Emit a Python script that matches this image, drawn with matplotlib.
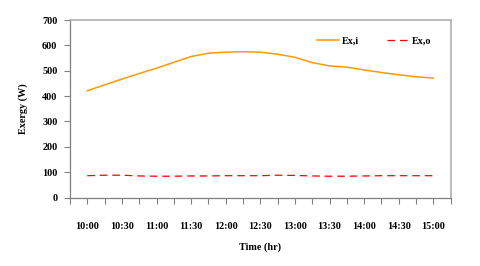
import matplotlib
matplotlib.use("Agg")
import matplotlib.pyplot as plt
import numpy as np

plt.rcParams['font.family'] = ['Liberation Serif', 'DejaVu Serif']
plt.rcParams['font.weight'] = 'bold'
plt.rcParams['lines.scale_dashes'] = False

times = ["10:00", "10:15", "10:30", "10:45", "11:00", "11:15", "11:30", "11:45",
         "12:00", "12:15", "12:30", "12:45", "13:00", "13:15", "13:30", "13:45",
         "14:00", "14:15", "14:30", "14:45", "15:00"]
ex_i = [421, 444, 467, 489, 510, 533, 556, 569, 573, 575, 573, 565, 553, 532,
        519, 514, 503, 493, 484, 476, 471]
ex_o = [86, 88, 88, 85, 84, 84, 85, 85, 86, 86, 86, 88, 87, 85, 84, 84, 85,
        86, 86, 86, 86]
yticks = [0, 100, 200, 300, 400, 500, 600, 700]

fig = plt.figure(figsize=(4.8, 2.66), dpi=100)
ax = fig.add_axes([0.1458, 0.2575, 0.939 - 0.1458, 0.9248 - 0.2575])

x = np.arange(len(times))
ax.plot(x, ex_i, color='#FF9900', lw=1.1, label='Ex,i')
ax.plot(x, ex_o, color='#FF0000', lw=0.9, dashes=(5.5, 3.5), label='Ex,o')

ax.set_xlim(-1, len(times))
ax.set_ylim(0, 700)
ax.set_yticks(yticks)
ax.set_yticklabels([str(v) for v in yticks], fontsize=7.3, fontweight='bold')

tick_pos = np.arange(-1, len(times) + 1)
ax.set_xticks(tick_pos)
labels = []
for p in tick_pos:
    if 0 <= p < len(times) and p % 2 == 0:
        labels.append(times[p])
    else:
        labels.append("")
ax.set_xticklabels(labels, fontsize=7.3, fontweight='bold')

ax.tick_params(axis='x', direction='out', length=4, width=0.8, color='#808080', pad=13.5)
ax.tick_params(axis='y', direction='out', length=4, width=0.8, color='#808080', pad=5)

for s in ['left', 'bottom']:
    ax.spines[s].set_color('#808080')
    ax.spines[s].set_linewidth(0.9)
for s in ['top', 'right']:
    ax.spines[s].set_color('#b0b0b0')
    ax.spines[s].set_linewidth(1.2)

ax.set_xlabel('Time (hr)', fontsize=7.3, fontweight='bold', labelpad=8)
ax.set_ylabel('Exergy (W)', fontsize=7.3, fontweight='bold', labelpad=10)

leg = ax.legend(loc='center left', ncol=2, frameon=False,
                bbox_to_anchor=(0.6496, 0.883), borderpad=0, borderaxespad=0,
                handlelength=2.1, handletextpad=0.35, columnspacing=2.7,
                prop={'weight': 'bold', 'size': 7.3})

fig.savefig('out.png', dpi=100)
